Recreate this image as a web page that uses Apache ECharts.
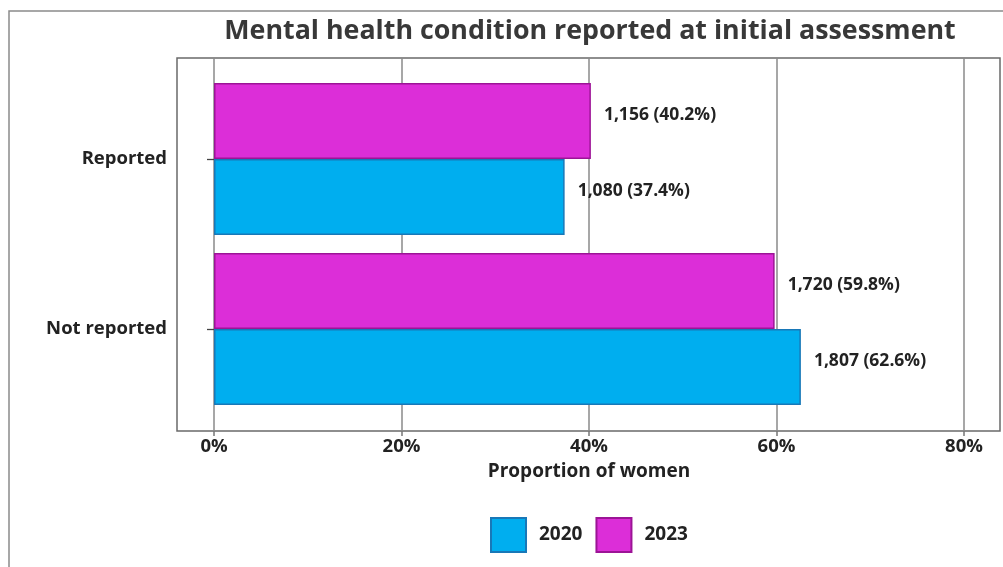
<!DOCTYPE html>
<html>
<head>
<meta charset="utf-8">
<script src="https://cdn.jsdelivr.net/npm/echarts@6/dist/echarts.min.js"></script>
<style>html,body{margin:0;padding:0;background:#fff;}#c{width:1003px;height:567px;}</style>
</head>
<body>
<div id="c"></div>
<script>
const categories = ['Not reported', 'Reported'];
const seriesNames = ['2020', '2023'];
const values2020 = [0.626, 0.374];
const values2023 = [0.598, 0.402];
const counts2020 = [1807, 1080];
const counts2023 = [1720, 1156];
const xTicks = [0, 0.2, 0.4, 0.6, 0.8];

const FONT = 'Open Sans';
const fmtCount = n => n.toLocaleString('en-US');
function labelFor(counts, values) {
  return p => fmtCount(counts[p.dataIndex]) + ' (' + (values[p.dataIndex] * 100).toFixed(1) + '%)';
}

const chart = echarts.init(document.getElementById('c'), null, {renderer: 'canvas'});
const option = {
  backgroundColor: '#fff',
  animation: false,
  textStyle: {fontFamily: FONT},
  title: {
    text: 'Mental health condition reported at initial assessment',
    left: 585, textAlign: 'center', top: 13,
    textStyle: {fontFamily: FONT, fontSize: 26.8, fontWeight: 'bold', color: '#383838'}
  },
  graphic: [
    {type: 'rect', shape: {x: 9, y: 11, width: 1200, height: 800}, style: {fill: 'none', stroke: '#8a8a8a', lineWidth: 1.5}, z: -10},
    {type: 'rect', shape: {x: 177, y: 58, width: 823, height: 373}, style: {fill: 'none', stroke: '#6a6a6a', lineWidth: 1.5}, z: -5}
  ],
  legend: {
    left: 490, top: 517, padding: 0,
    itemWidth: 35, itemHeight: 34, itemGap: 13,
    icon: 'rect',
    data: seriesNames,
    textStyle: {fontFamily: FONT, fontSize: 19, fontWeight: 'bold', color: '#222', padding: [0, 0, 0, 8]}
  },
  grid: [
    {left: 214, right: 39, top: 74, bottom: 153},
    {left: 214, right: 39, top: 58, bottom: 136}
  ],
  xAxis: [
    {
      type: 'value', gridIndex: 0, min: 0, max: 0.8, interval: 0.2, offset: 17,
      axisLine: {show: false},
      axisTick: {show: true, length: 5, lineStyle: {color: '#777', width: 1.5}},
      splitLine: {show: false},
      axisLabel: {formatter: v => Math.round(v * 100) + '%', fontFamily: FONT, fontSize: 18.5, fontWeight: 'bold', color: '#222', margin: 6},
      name: 'Proportion of women', nameLocation: 'middle', nameGap: 31,
      nameTextStyle: {fontFamily: FONT, fontSize: 19, fontWeight: 'bold', color: '#222'}
    },
    {
      type: 'value', gridIndex: 1, min: 0, max: 0.8, interval: 0.2,
      axisLine: {show: false}, axisTick: {show: false}, axisLabel: {show: false},
      splitLine: {show: true, lineStyle: {color: '#8a8a8a', width: 1.5}}
    }
  ],
  yAxis: [
    {
      type: 'category', gridIndex: 0, data: categories, offset: 37,
      axisLine: {show: false},
      axisTick: {show: true, alignWithLabel: true, length: 7, lineStyle: {color: '#444', width: 1.3}},
      axisLabel: {fontFamily: FONT, fontSize: 18.5, fontWeight: 'bold', color: '#222', margin: 10}
    },
    {type: 'value', gridIndex: 1, show: false, min: 0, max: 1}
  ],
  series: [
    {
      name: '2023', type: 'bar', xAxisIndex: 0, yAxisIndex: 0,
      data: values2023, barGap: '0%', barCategoryGap: '10.6%',
      itemStyle: {color: '#DC2ED8', borderColor: '#9C1496', borderWidth: 1.5},
      label: {show: true, position: 'right', distance: 13, offset: [0, -6], formatter: labelFor(counts2023, values2023),
        fontFamily: FONT, fontSize: 17.5, fontWeight: 'bold', color: '#222'}
    },
    {
      name: '2020', type: 'bar', xAxisIndex: 0, yAxisIndex: 0,
      data: values2020, barGap: '0%', barCategoryGap: '10.6%',
      itemStyle: {color: '#00AEEF', borderColor: '#1878B8', borderWidth: 1.5},
      label: {show: true, position: 'right', distance: 13, offset: [0, -6], formatter: labelFor(counts2020, values2020),
        fontFamily: FONT, fontSize: 17.5, fontWeight: 'bold', color: '#222'}
    }
  ]
};
chart.setOption(option);
</script>
</body>
</html>
